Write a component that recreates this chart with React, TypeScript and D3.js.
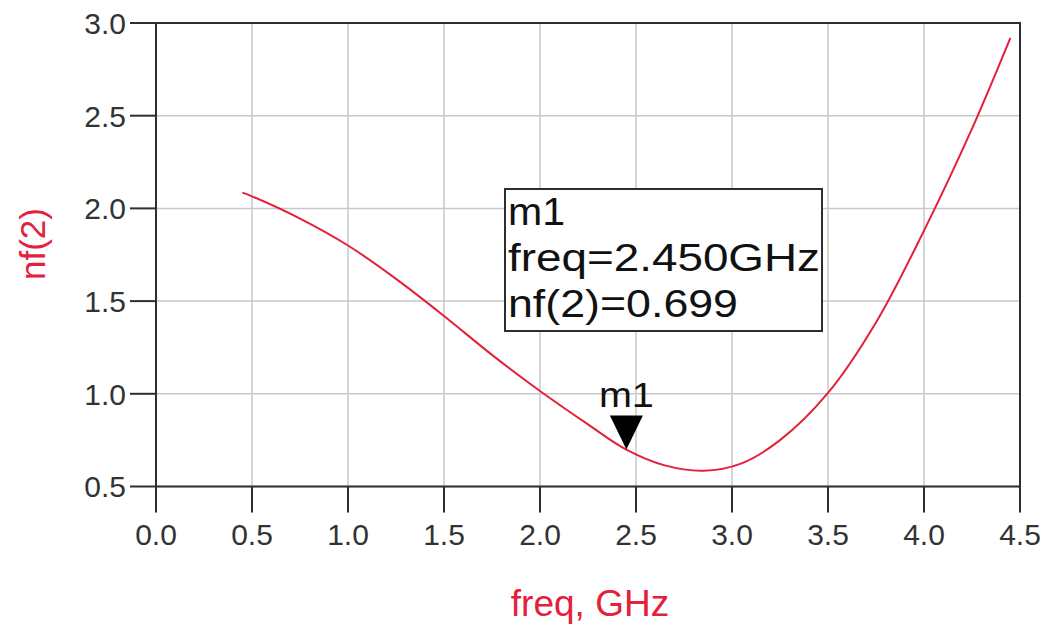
import React from "react";
import * as d3 from "d3";

const freq = [0.45, 0.5, 0.75, 1.0, 1.25, 1.5, 1.75, 2.0, 2.25, 2.45, 2.65, 2.85, 3.05, 3.25, 3.5, 3.75, 4.0, 4.25, 4.45];
const nf = [2.085, 2.065, 1.945, 1.8, 1.62, 1.42, 1.21, 1.015, 0.835, 0.699, 0.614, 0.585, 0.625, 0.75, 1.005, 1.385, 1.88, 2.43, 2.92];
const xTicks = [0.0, 0.5, 1.0, 1.5, 2.0, 2.5, 3.0, 3.5, 4.0, 4.5];
const yTicks = [0.5, 1.0, 1.5, 2.0, 2.5, 3.0];
const markerName = "m1";
const markerFreq = 2.45;
const markerValue = 0.699;
const legendLines = ["m1", "freq=2.450GHz", "nf(2)=0.699"];
const legendLengths = [57, 312, 230];

const W = 1051;
const H = 629;
const left = 156, right = 1020, top = 23, bottom = 486.5;
const RED = "#e4203a";
const FONT = "Arial, 'Liberation Sans', sans-serif";

export default function App() {
  const x = d3.scaleLinear().domain([0, 4.5]).range([left, right]);
  const y = d3.scaleLinear().domain([0.5, 3.0]).range([bottom, top]);
  const pts: [number, number][] = freq.map((f, i) => [f, nf[i]]);
  const line = d3
    .line<[number, number]>()
    .x((d) => x(d[0]))
    .y((d) => y(d[1]))
    .curve(d3.curveCatmullRom.alpha(0.5));

  const mx = x(markerFreq);
  const my = y(markerValue);

  return (
    <svg width={W} height={H} style={{ position: "absolute", left: 0, top: 0, background: "#fff" }}>
      <rect x={0} y={0} width={W} height={H} fill="#fff" />
      {xTicks.map((t) => (
        <line key={"gx" + t} x1={x(t)} x2={x(t)} y1={top} y2={bottom} stroke="#c8c8c8" strokeWidth={1.5} />
      ))}
      {yTicks.map((t) => (
        <line key={"gy" + t} x1={left} x2={right} y1={y(t)} y2={y(t)} stroke="#c8c8c8" strokeWidth={1.5} />
      ))}
      <rect x={left} y={top} width={right - left} height={bottom - top} fill="none" stroke="#2e2e2e" strokeWidth={2} />
      {xTicks.map((t) => (
        <g key={"tx" + t}>
          <line x1={x(t)} x2={x(t)} y1={bottom} y2={bottom + 26} stroke="#2e2e2e" strokeWidth={2} />
          <text x={x(t)} y={545} textAnchor="middle" fontFamily={FONT} fontSize={30} fill="#333">
            {t.toFixed(1)}
          </text>
        </g>
      ))}
      {yTicks.map((t) => (
        <g key={"ty" + t}>
          <line x1={left - 26} x2={left} y1={y(t)} y2={y(t)} stroke="#2e2e2e" strokeWidth={2} />
          <text x={126} y={y(t)} dy="0.36em" textAnchor="end" fontFamily={FONT} fontSize={30} fill="#333">
            {t.toFixed(1)}
          </text>
        </g>
      ))}
      <path d={line(pts) || ""} fill="none" stroke={RED} strokeWidth={2} />
      <path
        d={`M${mx},${my} L${mx - 16.5},${my - 34} L${mx + 16.5},${my - 34} Z`}
        fill="#000"
      />
      <text x={mx} y={my - 43} textAnchor="middle" fontFamily={FONT} fontSize={35} fill="#111" textLength={55} lengthAdjust="spacingAndGlyphs">
        {markerName}
      </text>
      <rect x={505} y={189} width={317} height={142} fill="#fff" stroke="#2e2e2e" strokeWidth={2} />
      {legendLines.map((s, i) => (
        <text
          key={s}
          x={508}
          y={225 + i * 46}
          fontFamily={FONT}
          fontSize={38}
          fill="#111"
          textLength={legendLengths[i]}
          lengthAdjust="spacingAndGlyphs"
        >
          {s}
        </text>
      ))}
      <text x={590} y={616} textAnchor="middle" fontFamily={FONT} fontSize={37} fill={RED}>
        freq, GHz
      </text>
      <text
        transform={`translate(45,244) rotate(-90)`}
        textAnchor="middle"
        fontFamily={FONT}
        fontSize={35}
        fill={RED}
      >
        nf(2)
      </text>
    </svg>
  );
}
